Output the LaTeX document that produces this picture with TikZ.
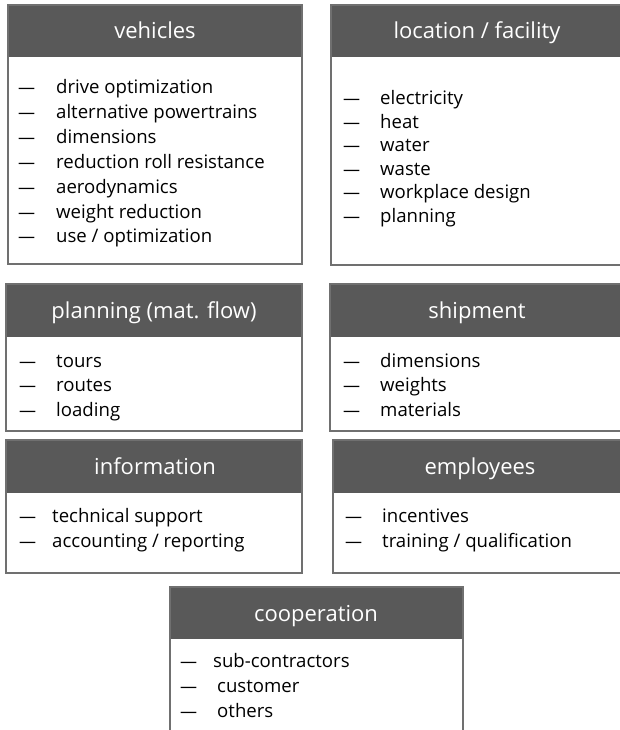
\documentclass[tikz,border=0pt]{standalone}
\usepackage{fontspec}
\setmainfont{Open Sans}
\usepackage{tikz}
\usetikzlibrary{positioning}

\definecolor{headgray}{HTML}{595959}
\definecolor{framegray}{HTML}{707070}

% one panel: name, left, right, top, header bottom, bottom, title x, title
\newcommand\panel[8]{%
    \fill[headgray] (#2,-#4) rectangle (#3,-#5);
    \draw[frame] (#2,-#4) rectangle (#3,-#6);
    \node[paneltitle] (#1) at (#7,{-(#4+#5)/2-8}) {#8};
}
% item list: name, dash x, text x, first y, spacing, items
\newcommand\itemlist[6]{%
    \foreach \txt [count=\i] in {#6} {
        \node[itemdash] (#1-d\i) at (#2,{-#4-5-(\i-1)*#5}) {---};
        \node[itemtext] (#1-\i) at (#3,{-#4-5-(\i-1)*#5}) {\txt};
    }
}

\begin{document}
\begin{tikzpicture}[
    x = 1pt, y = 1pt, % one unit is one pixel of the reference
    frame/.style = {draw = framegray, line width = 1.8pt},
    paneltitle/.style = {anchor = base, text = white, font = \fontsize{22}{26}\selectfont, inner sep = 0pt},
    itemdash/.style = {anchor = base west, inner sep = 0pt, font = \fontsize{17}{20}\selectfont, text = black},
    itemtext/.style = {anchor = base west, inner sep = 0pt, font = \fontsize{18.6}{22}\selectfont, text = black}
    ]
    \useasboundingbox (0,0) rectangle (619,-730);

    % top row
    \panel{vehicles}{8}{302}{5}{57}{264}{155}{vehicles}
    \itemlist{veh}{18}{56}{89}{24.8}{drive optimization, alternative powertrains, dimensions,
        reduction roll resistance, aerodynamics, weight reduction, use / optimization}

    \panel{location}{331}{640}{5}{57}{265}{477}{location / facility}
    \itemlist{loc}{343}{380}{100}{23.4}{electricity, heat, water, waste, workplace design, planning}

    % middle rows
    \panel{planning}{6}{302}{284}{337}{431}{154}{planning (mat. flow)}
    \itemlist{pla}{19}{56}{362}{24.5}{tours, routes, loading}

    \panel{shipment}{330}{640}{284}{337}{431}{477}{shipment}
    \itemlist{shi}{343}{380}{362}{24.5}{dimensions, weights, materials}

    \panel{information}{6}{302}{440}{493}{573}{155}{information}
    \itemlist{inf}{19}{52}{517}{25}{technical support, accounting / reporting}

    \panel{employees}{333}{640}{440}{493}{573}{480}{employees}
    \itemlist{emp}{345}{382}{517}{25}{incentives, training / qualification}

    % bottom
    \panel{cooperation}{170}{463}{587}{639}{740}{316}{cooperation}
    \node[itemdash] (coo-d1) at (180,-667) {---};
    \node[itemtext] (coo-1) at (213,-667) {sub-contractors};
    \itemlist{coo}{180}{217}{687}{25}{customer, others}
\end{tikzpicture}
\end{document}
